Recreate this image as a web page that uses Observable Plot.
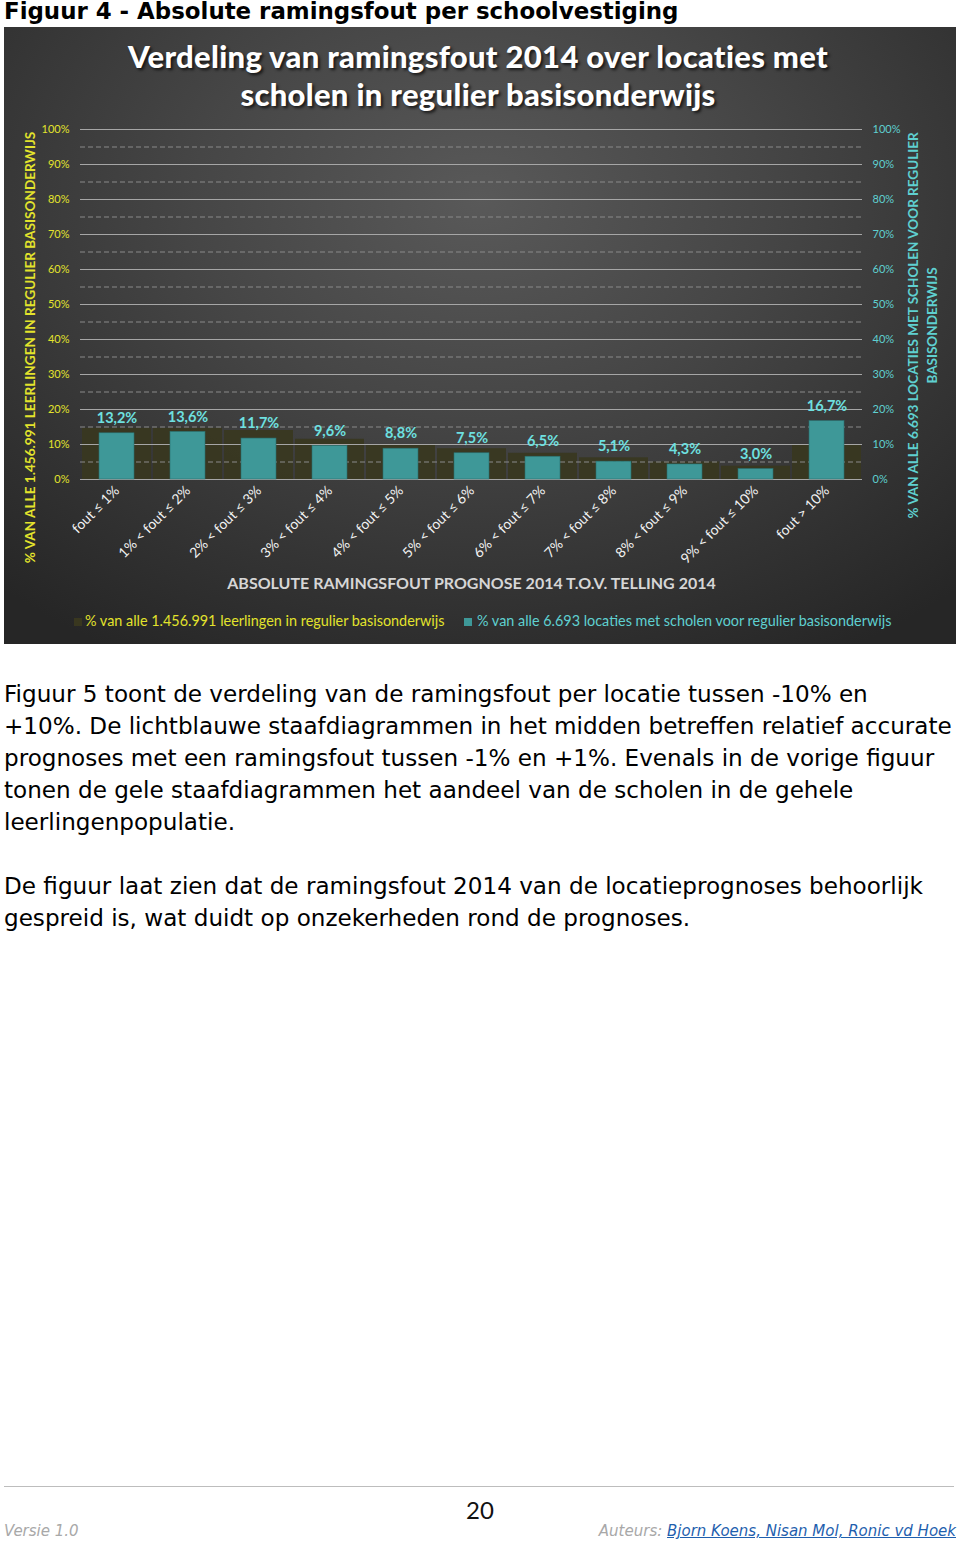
<!DOCTYPE html>
<html>
<head>
<meta charset="utf-8">
<script src="https://cdn.jsdelivr.net/npm/d3@7"></script>
<script src="https://cdn.jsdelivr.net/npm/@observablehq/plot@0.6"></script>
<style>
  html, body { margin: 0; padding: 0; background: #fff; }
  body { width: 960px; height: 1549px; position: relative; overflow: hidden; font-family: "DejaVu Sans", Verdana, sans-serif; }
  #hdr { position: absolute; left: 4px; top: -2px; font-weight: bold; font-size: 22.9px; line-height: 27px; color: #000; white-space: nowrap; }
  #panel { position: absolute; left: 4px; top: 27px; width: 952px; height: 617px;
    background: radial-gradient(ellipse 75% 85% at 50% 28%, #595959 0%, #464646 40%, #333 75%, #262626 100%); overflow: hidden; }
  #title { position: absolute; left: 0; top: 10px; width: 948px; text-align: center; color: #fff; font-family: Lato, sans-serif; font-weight: 900; font-size: 31px; line-height: 38px; letter-spacing: 0.3px; text-shadow: 2px 2px 3px rgba(0,0,0,0.7); }
  #chart { position: absolute; left: 0; top: 0; }
  #legend { position: absolute; top: 585px; left: 0; width: 952px; font-family: Lato, sans-serif; font-size: 14.4px; white-space: nowrap; }
  #legend span { position: absolute; top: 0; }
  .sw { display: inline-block; width: 8px; height: 8px; }
  #body { position: absolute; left: 4px; top: 678px; font-size: 23.1px; line-height: 32px; color: #000; white-space: nowrap; }
  #body p { margin: 0 0 32px 0; }
  #rule { position: absolute; left: 4px; top: 1486px; width: 950px; height: 1px; background: #bdbdbd; }
  #page { position: absolute; left: 0; width: 960px; top: 1495px; text-align: center; font-size: 24px; font-family: Lato, sans-serif; color: #111; }
  #versie { position: absolute; left: 4px; top: 1522px; font-style: italic; font-size: 15px; color: #a8a8a8; }
  #auteurs { position: absolute; right: 4px; top: 1522px; font-style: italic; font-size: 15px; color: #a8a8a8; }
  #auteurs a { color: #1f5fae; text-decoration: underline; }
</style>
</head>
<body>
<div id="hdr">Figuur 4 - Absolute ramingsfout per schoolvestiging</div>
<div id="panel">
  <div id="chart"></div>
  <div id="title">Verdeling van ramingsfout 2014 over locaties met<br>scholen in regulier basisonderwijs</div>
  <div id="legend"></div>
</div>
<div id="body">
<p>Figuur 5 toont de verdeling van de ramingsfout per locatie tussen -10% en<br>+10%. De lichtblauwe staafdiagrammen in het midden betreffen relatief accurate<br>prognoses met een ramingsfout tussen -1% en +1%. Evenals in de vorige figuur<br>tonen de gele staafdiagrammen het aandeel van de scholen in de gehele<br>leerlingenpopulatie.</p>
<p>De figuur laat zien dat de ramingsfout 2014 van de locatieprognoses behoorlijk<br>gespreid is, wat duidt op onzekerheden rond de prognoses.</p>
</div>
<div id="rule"></div>
<div id="page">20</div>
<div id="versie">Versie 1.0</div>
<div id="auteurs">Auteurs: <a>Bjorn Koens, Nisan Mol, Ronic vd Hoek</a></div>
<script>
// ---- data ----
const categories = [
  "fout ≤ 1%", "1% < fout ≤ 2%", "2% < fout ≤ 3%", "3% < fout ≤ 4%",
  "4% < fout ≤ 5%", "5% < fout ≤ 6%", "6% < fout ≤ 7%", "7% < fout ≤ 8%",
  "8% < fout ≤ 9%", "9% < fout ≤ 10%", "fout > 10%"
];
const locatiesPct = [13.2, 13.6, 11.7, 9.6, 8.8, 7.5, 6.5, 5.1, 4.3, 3.0, 16.7];
const leerlingenPct = [14.6, 14.6, 14.0, 11.5, 10.0, 8.8, 7.5, 6.2, 5.0, 3.8, 9.8];
const majorTicks = [0, 10, 20, 30, 40, 50, 60, 70, 80, 90, 100];
const minorTicks = [5, 15, 25, 35, 45, 55, 65, 75, 85, 95];
const seriesNames = [
  "% van alle 1.456.991 leerlingen in regulier basisonderwijs",
  "% van alle 6.693 locaties met scholen voor regulier basisonderwijs"
];
const yLabelLeft = "% VAN ALLE 1.456.991 LEERLINGEN IN REGULIER BASISONDERWIJS";
const yLabelRight = "% VAN ALLE 6.693 LOCATIES MET SCHOLEN VOOR REGULIER\nBASISONDERWIJS";
const xLabel = "ABSOLUTE RAMINGSFOUT PROGNOSE 2014 T.O.V. TELLING 2014";

const YELLOW = "#e3e32c";
const CYAN = "#5fd0d0";
const rows = categories.map((c, i) => ({cat: c, loc: locatiesPct[i], lee: leerlingenPct[i]}));
const fmt = v => v.toFixed(1).replace(".", ",") + "%";

const chart = Plot.plot({
  width: 952, height: 617,
  marginTop: 102, marginBottom: 165, marginLeft: 76, marginRight: 94,
  style: {background: "transparent", fontFamily: "Lato, sans-serif", overflow: "visible"},
  x: {domain: categories, padding: 0},
  y: {domain: [0, 100]},
  marks: [
    Plot.barY(rows, {x: "cat", y: "lee", fill: "#39371f", fillOpacity: 0.9, insetLeft: 1, insetRight: 1}),
    Plot.ruleY(minorTicks, {stroke: "#8a8a8a", strokeDasharray: "5,3", strokeWidth: 1}),
    Plot.ruleY(majorTicks, {stroke: "#a6a6a6", strokeWidth: 1.2}),
    Plot.barY(rows, {x: "cat", y: "loc", fill: "#3e9898", insetLeft: 18, insetRight: 18, stroke: "#2a6f6f", strokeWidth: 0.6}),
    Plot.text(rows, {x: "cat", y: "loc", text: d => fmt(d.loc), dy: -15, fill: "#6ee0e0", fontWeight: "bold", fontSize: 14.5}),
    Plot.axisY(majorTicks, {anchor: "left", tickFormat: d => d + "%", tickSize: 0, tickPadding: 11, color: YELLOW, fontSize: 11, label: null}),
    Plot.axisY(majorTicks, {anchor: "right", tickFormat: d => d + "%", tickSize: 0, tickPadding: 10, color: CYAN, fontSize: 11, label: null}),
    Plot.axisX({tickRotate: -45, tickSize: 0, tickPadding: 9, color: "#f2f2f2", fontSize: 14, label: null}),
    Plot.text([yLabelLeft], {frameAnchor: "left", textAnchor: "middle", rotate: -90, dx: -50, dy: 43, fill: YELLOW, fontWeight: "bold", fontSize: 13.6}),
    Plot.text([yLabelRight], {frameAnchor: "right", textAnchor: "middle", rotate: -90, dx: 59, dy: 21, fill: CYAN, fontWeight: "bold", fontSize: 13.5, lineHeight: 1.38}),
    Plot.text([xLabel], {frameAnchor: "bottom", dy: 109, fill: "#d6d6d6", fontWeight: "bold", fontSize: 16})
  ]
});
document.getElementById("chart").appendChild(chart);

const legend = document.getElementById("legend");
legend.innerHTML =
  `<span style="left:70px;color:${YELLOW}"><i class="sw" style="background:#39371f;margin-right:3px"></i>${seriesNames[0]}</span>` +
  `<span style="left:460px;color:${CYAN}"><i class="sw" style="background:#3e9898;margin-right:5px"></i>${seriesNames[1]}</span>`;
</script>
</body>
</html>
